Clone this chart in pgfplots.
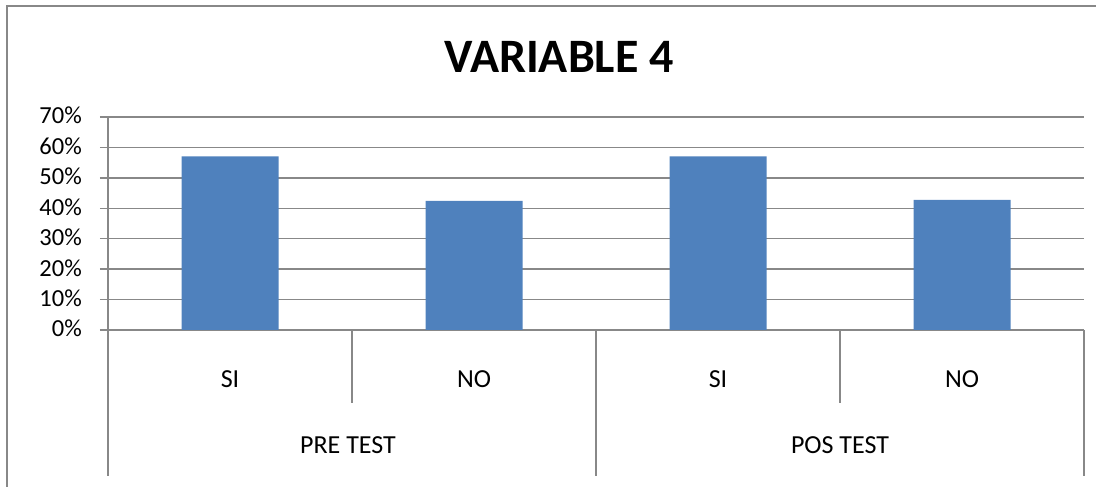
\documentclass[border=0pt]{standalone}
\usepackage{pgfplots}
\pgfplotsset{compat=1.18}
\usepackage{fontspec}
\setmainfont{Carlito}
\definecolor{barblue}{HTML}{4F81BD}
\definecolor{gridgray}{HTML}{888888}
\begin{document}
\begin{tikzpicture}
\useasboundingbox (0,0) rectangle (1104bp,487bp);
% outer frame
\draw[gridgray, line width=2.2bp] (7bp,0bp) -- (7bp,481bp) -- (1096bp,481bp);
% title
\node[anchor=base, inner sep=0pt, font=\fontsize{48bp}{52bp}\selectfont\bfseries] at (559bp,414bp) {VARIABLE 4};
\begin{axis}[
  at={(108bp,157bp)}, anchor=south west,
  scale only axis, width=976bp, height=213bp,
  xmin=-0.5, xmax=3.5, ymin=0, ymax=70,
  axis line style={draw=gridgray, line width=1.4bp},
  axis x line*=bottom, axis y line*=left,
  ybar, bar width=97bp,
  xtick={0,1,2,3}, xticklabels={SI,NO,SI,NO},
  xtick style={draw=none},
  xticklabel style={anchor=base, inner sep=0pt, yshift=-50bp, font=\fontsize{26bp}{30bp}\selectfont},
  ytick={0,10,20,30,40,50,60,70},
  yticklabels={0\%,10\%,20\%,30\%,40\%,50\%,60\%,70\%},
  tick align=outside, major tick length=8bp,
  ytick style={draw=gridgray, line width=1.4bp},
  yticklabel style={anchor=base east, inner sep=0pt, xshift=-18bp, yshift=-7bp, font=\fontsize{24.5bp}{28bp}\selectfont},
  ymajorgrids, grid style={draw=gridgray, line width=1.4bp},
  clip=false,
]
\addplot[fill=barblue, draw=none] coordinates {(0,57.1) (1,42.4) (2,57.1) (3,42.8)};
\end{axis}
% category separators
\draw[gridgray, line width=1.4bp] (108bp,157bp) -- (108bp,11bp);
\draw[gridgray, line width=1.4bp] (352bp,157bp) -- (352bp,84bp);
\draw[gridgray, line width=1.4bp] (596bp,157bp) -- (596bp,11bp);
\draw[gridgray, line width=1.4bp] (840bp,157bp) -- (840bp,84bp);
\draw[gridgray, line width=1.4bp] (1084bp,157bp) -- (1084bp,11bp);
% group labels
\node[anchor=base, inner sep=0pt, font=\fontsize{26bp}{30bp}\selectfont] at (348bp,34bp) {PRE TEST};
\node[anchor=base, inner sep=0pt, font=\fontsize{26bp}{30bp}\selectfont] at (840bp,34bp) {POS TEST};
\end{tikzpicture}
\end{document}
